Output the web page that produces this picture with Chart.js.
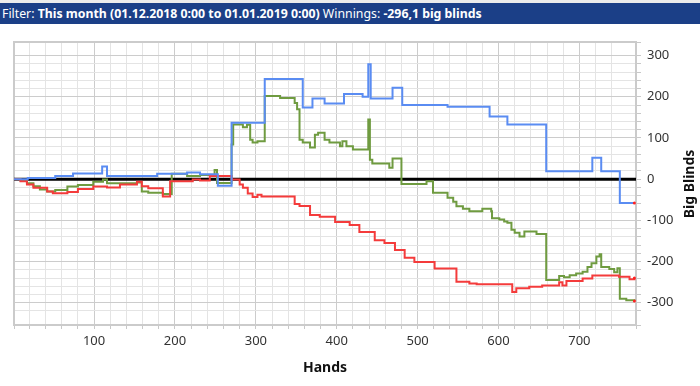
<!DOCTYPE html>
<html>
<head>
<meta charset="utf-8">
<script src="https://cdn.jsdelivr.net/npm/chart.js@4.4.1/dist/chart.umd.min.js"></script>
<style>
  body { margin: 0; background: #fff; }
  #strip { position: absolute; left: 0; top: 0; width: 700px; height: 3px; background: #ececec; }
  #bar {
    position: absolute; left: 0; top: 3px; width: 698px; height: 21px; padding-left: 2px;
    background: #1b3f87; color: #fff; font: 12.3px "Noto Sans", sans-serif; line-height: 21px;
    white-space: nowrap; z-index: 2;
  }
  #bar b { font-weight: bold; }
  canvas { position: absolute; left: 0; top: 0; }
</style>
</head>
<body>
<div id="strip"></div>
<div id="bar">Filter: <b>This month (01.12.2018 0:00 to 01.01.2019 0:00)</b> Winnings: <b>-296,1 big blinds</b></div>
<canvas id="chart" width="700" height="386"></canvas>
<script>
// change points: [hand, big blinds]; the line steps to the new value at that hand
const blueHands = [1, 18, 52, 74, 110, 116, 178, 215, 231, 253, 270, 311, 358, 370, 385, 409, 432, 439, 442, 469, 481, 537, 589, 611, 659, 716, 727, 750, 768];
const blueBB = [0, 3, 8, 14, 31, 8, 13, 16, 12, -16, 137, 243, 174, 196, 184, 207, 200, 279, 196, 222, 180, 176, 152, 133, 19, 52, 19, -58, -58];

const greenHands = [1, 9, 17, 25, 33, 42, 52, 67, 80, 99, 111, 116, 153, 159, 167, 185, 196, 215, 231, 249, 252, 270, 272, 284, 289, 293, 296, 302, 311, 330, 348, 351, 354, 358, 367, 373, 377, 385, 391, 404, 407, 412, 420, 439, 441, 444, 465, 469, 480, 511, 519, 537, 544, 548, 556, 564, 580, 591, 592, 601, 607, 611, 616, 620, 626, 632, 647, 659, 675, 681, 688, 696, 704, 710, 715, 721, 725, 727, 737, 743, 747, 750, 758, 768];
const greenBB = [0, -3, -10, -17, -25, -30, -26, -18, -14, -6, -1, -10, -8, -30, -33, -36, 13, 8, 10, 22, -9, 84, 133, 126, 132, 96, 89, 92, 202, 197, 185, 170, 96, 89, 77, 108, 113, 96, 89, 80, 92, 80, 72, 145, 47, 38, 28, 50, -12, -5, -33, -45, -55, -66, -72, -78, -72, -78, -95, -98, -103, -106, -123, -130, -139, -127, -133, -245, -235, -238, -233, -229, -225, -213, -204, -188, -182, -213, -218, -226, -216, -290, -294, -296];

const redHands = [1, 9, 17, 25, 42, 49, 67, 80, 99, 116, 132, 153, 159, 167, 185, 194, 222, 231, 243, 270, 280, 284, 290, 296, 302, 307, 348, 354, 367, 379, 398, 416, 428, 447, 459, 472, 484, 496, 521, 548, 564, 573, 617, 622, 638, 654, 675, 679, 684, 704, 716, 749, 762, 768];
const redBB = [0, -5, -13, -21, -30, -34, -31, -24, -18, -20, -13, -6, -17, -22, -42, -5, -1, -3, 8, -1, -13, -21, -35, -43, -38, -42, -60, -65, -87, -91, -104, -111, -128, -148, -155, -172, -191, -201, -217, -249, -253, -255, -274, -265, -261, -258, -250, -258, -247, -241, -234, -237, -243, -240];

const xMin = 1, xMax = 770, yMin = -354, yMax = 333;

function pts(hands, vals) {
  return hands.map((h, i) => ({ x: h, y: vals[i] }));
}

function series(hands, vals, color) {
  return {
    data: pts(hands, vals),
    borderColor: color,
    borderWidth: 2,
    stepped: true,
    pointRadius: ctx => ctx.dataIndex === hands.length - 1 ? 1.5 : 0,
    pointBackgroundColor: '#ff2020',
    pointBorderWidth: 0
  };
}

const frame = {
  id: 'frame',
  beforeDatasetsDraw(chart) {
    const a = chart.chartArea, c = chart.ctx;
    c.save();
    c.strokeStyle = '#cbcbcb';
    c.lineWidth = 2;
    c.strokeRect(a.left, a.top, a.right - a.left, a.bottom - a.top);
    // zero line
    const y0 = chart.scales.y.getPixelForValue(0);
    c.strokeStyle = '#000';
    c.lineWidth = 3;
    c.beginPath();
    c.moveTo(a.left, y0);
    c.lineTo(a.right, y0);
    c.stroke();
    c.restore();
  },
  afterDraw(chart) {
    const c = chart.ctx;
    c.save();
    c.translate(690, 184);
    c.rotate(-Math.PI / 2);
    c.font = 'bold 14px "Noto Sans"';
    c.fillStyle = '#111';
    c.textAlign = 'center';
    c.textBaseline = 'middle';
    c.fillText('Big Blinds', 0, 0);
    c.restore();
  }
};

const gridColor = ctx => (ctx.tick && ctx.tick.value % 100 === 0) ? '#cccccc' : '#e4e4e4';

new Chart(document.getElementById('chart'), {
  type: 'line',
  data: {
    datasets: [
      series(blueHands, blueBB, '#5a8cf2'),
      series(redHands, redBB, '#f43b3b'),
      series(greenHands, greenBB, '#6f9b40')
    ]
  },
  options: {
    responsive: false,
    animation: false,
    layout: { padding: { top: 42, left: 14, right: 0, bottom: 0 } },
    plugins: { legend: { display: false }, tooltip: { enabled: false } },
    scales: {
      x: {
        type: 'linear',
        min: xMin,
        max: xMax,
        afterFit: s => { s.height = 61; },
        border: { display: false },
        grid: { color: gridColor, tickColor: '#c8c8c8', tickLength: 4 },
        ticks: {
          stepSize: 20,
          autoSkip: false,
          maxRotation: 0,
          padding: 4,
          color: '#333',
          font: { family: 'Noto Sans', size: 13 },
          callback: v => (v % 100 === 0 ? v : '')
        },
        title: {
          display: true,
          text: 'Hands',
          color: '#111',
          font: { family: 'Noto Sans', size: 14, weight: 'bold' },
          padding: { top: 4, bottom: 10 }
        }
      },
      y: {
        type: 'linear',
        position: 'right',
        min: yMin,
        max: yMax,
        afterFit: s => { s.width = 64; },
        border: { display: false },
        grid: { color: gridColor, tickColor: '#c8c8c8', tickLength: 5 },
        ticks: {
          stepSize: 20,
          autoSkip: false,
          padding: 6,
          color: '#333',
          font: { family: 'Noto Sans', size: 13 },
          callback: v => (v % 100 === 0 ? v : '')
        }
      }
    }
  },
  plugins: [frame]
});
</script>
</body>
</html>
